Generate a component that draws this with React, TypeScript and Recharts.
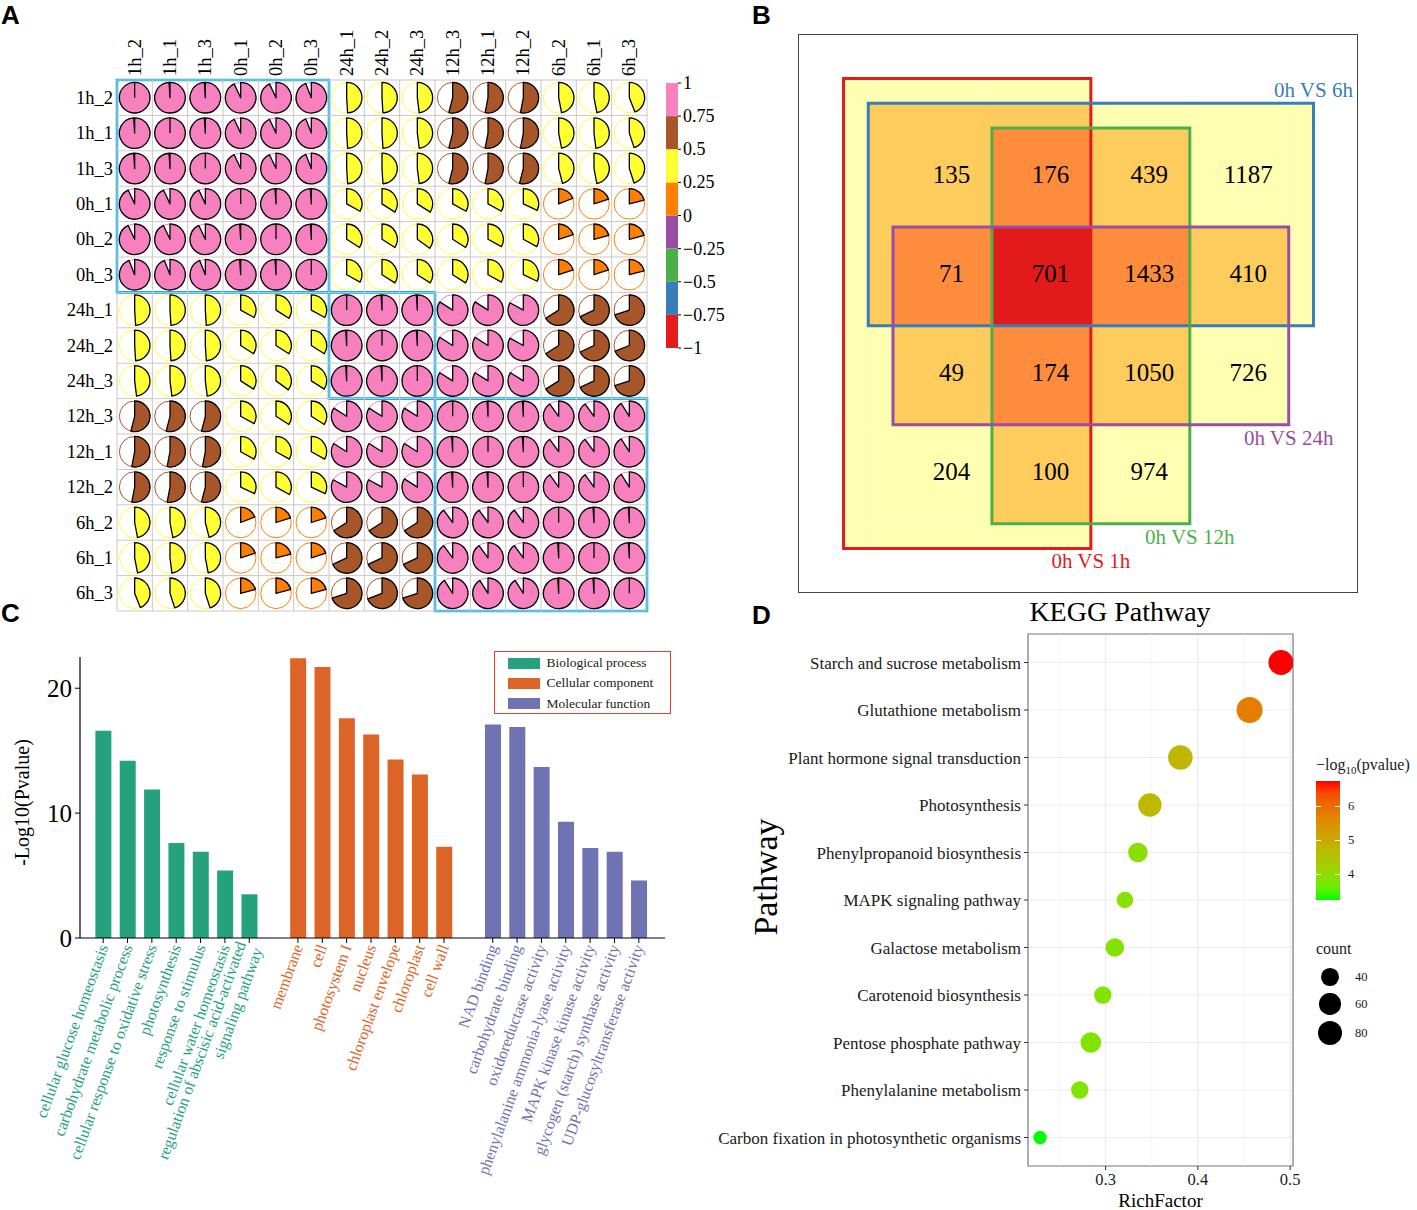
import React from 'react';
import {
  BarChart,
  Bar,
  Cell,
  ScatterChart,
  Scatter,
  XAxis,
  YAxis,
  CartesianGrid,
  ReferenceArea,
  ReferenceLine,
  Legend,
} from 'recharts';

const SERIF = '"Liberation Serif", "Times New Roman", serif';
const SANS = '"Liberation Sans", Arial, sans-serif';

// ---------- A: sample correlation (clustered order) ----------
const samples = ['1h_2', '1h_1', '1h_3', '0h_1', '0h_2', '0h_3', '24h_1', '24h_2', '24h_3', '12h_3', '12h_1', '12h_2', '6h_2', '6h_1', '6h_3'];
const corrRows = [
  [1, 0.99, 0.99, 0.93, 0.93, 0.94, 0.49, 0.49, 0.48, 0.54, 0.53, 0.53, 0.47, 0.47, 0.44],
  [0.99, 1, 0.99, 0.93, 0.93, 0.94, 0.49, 0.49, 0.48, 0.54, 0.53, 0.53, 0.47, 0.48, 0.45],
  [0.99, 0.99, 1, 0.93, 0.93, 0.94, 0.49, 0.49, 0.48, 0.54, 0.53, 0.54, 0.46, 0.47, 0.45],
  [0.93, 0.93, 0.93, 1, 0.99, 0.99, 0.33, 0.34, 0.34, 0.33, 0.33, 0.32, 0.19, 0.2, 0.21],
  [0.93, 0.93, 0.93, 0.99, 1, 0.99, 0.34, 0.34, 0.35, 0.34, 0.33, 0.33, 0.2, 0.21, 0.21],
  [0.94, 0.94, 0.94, 0.99, 0.99, 1, 0.33, 0.34, 0.34, 0.34, 0.33, 0.32, 0.2, 0.2, 0.21],
  [0.49, 0.49, 0.49, 0.33, 0.34, 0.33, 1, 0.99, 0.99, 0.84, 0.84, 0.83, 0.66, 0.68, 0.7],
  [0.49, 0.49, 0.49, 0.34, 0.34, 0.34, 0.99, 1, 0.99, 0.84, 0.84, 0.83, 0.66, 0.68, 0.69],
  [0.48, 0.48, 0.48, 0.34, 0.35, 0.34, 0.99, 0.99, 1, 0.84, 0.84, 0.84, 0.66, 0.68, 0.7],
  [0.54, 0.54, 0.54, 0.33, 0.34, 0.34, 0.84, 0.84, 0.84, 1, 0.99, 0.99, 0.9, 0.9, 0.91],
  [0.53, 0.53, 0.53, 0.33, 0.33, 0.33, 0.84, 0.84, 0.84, 0.99, 1, 0.99, 0.9, 0.9, 0.91],
  [0.53, 0.53, 0.54, 0.32, 0.33, 0.32, 0.83, 0.83, 0.84, 0.99, 0.99, 1, 0.9, 0.9, 0.91],
  [0.47, 0.47, 0.46, 0.19, 0.2, 0.2, 0.66, 0.66, 0.66, 0.9, 0.9, 0.9, 1, 0.99, 0.99],
  [0.47, 0.48, 0.47, 0.2, 0.21, 0.2, 0.68, 0.68, 0.68, 0.9, 0.9, 0.9, 0.99, 1, 0.99],
  [0.44, 0.45, 0.45, 0.21, 0.21, 0.21, 0.7, 0.69, 0.7, 0.91, 0.91, 0.91, 0.99, 0.99, 1],
];
const corrBreaks = [-1, -0.75, -0.5, -0.25, 0, 0.25, 0.5, 0.75, 1];
const corrColors = ['#E41A1C', '#377EB8', '#4DAF4A', '#984EA3', '#FF7F00', '#FFFF33', '#A65628', '#F781BF'];
const clusterBlocks = [[0, 6], [6, 9], [9, 15]];

// ---------- B: overlap of DEG sets ----------
const vennSets = [
  { name: '0h VS 1h', color: '#E41A1C', x1: -0.5, x2: 2, y1: -0.5, y2: 4.25, side: 'bottom' },
  { name: '0h VS 6h', color: '#377EB8', x1: -0.25, x2: 4.25, y1: -0.25, y2: 2, side: 'top' },
  { name: '0h VS 12h', color: '#4DAF4A', x1: 1, x2: 3, y1: 0, y2: 4, side: 'bottom' },
  { name: '0h VS 24h', color: '#984EA3', x1: 0, x2: 4, y1: 1, y2: 3, side: 'bottom' },
];
const vennCounts = [
  [135, 176, 439, 1187],
  [71, 701, 1433, 410],
  [49, 174, 1050, 726],
  [204, 100, 974, null],
];
const overlapFills = ['#FFFFB2', '#FECC5C', '#FD8D3C', '#E31A1C'];

// ---------- C: GO enrichment ----------
const bpTerms = [
  'cellular glucose homeostasis',
  'carbohydrate metabolic process',
  'cellular response to oxidative stress',
  'photosynthesis',
  'response to stimulus',
  'cellular water homeostasis',
  'regulation of abscisic acid-activated\nsignaling pathway',
];
const bpValues = [16.6, 14.2, 11.9, 7.6, 6.9, 5.4, 3.5];
const ccTerms = ['membrane', 'cell', 'photosystem I', 'nucleus', 'chloroplast envelope', 'chloroplast', 'cell wall'];
const ccValues = [22.4, 21.7, 17.6, 16.3, 14.3, 13.1, 7.3];
const mfTerms = [
  'NAD binding',
  'carbohydrate binding',
  'oxidoreductase activity',
  'phenylalanine ammonia-lyase activity',
  'MAPK kinase kinase activity',
  'glycogen (starch) synthase activity',
  'UDP-glucosyltransferase activity',
];
const mfValues = [17.1, 16.9, 13.7, 9.3, 7.2, 6.9, 4.6];
const goGroups = [
  { name: 'Biological process', color: '#25A27D', terms: bpTerms, values: bpValues },
  { name: 'Cellular component', color: '#DC6426', terms: ccTerms, values: ccValues },
  { name: 'Molecular function', color: '#6F73B4', terms: mfTerms, values: mfValues },
];

// ---------- D: KEGG enrichment ----------
const pathways = [
  'Starch and sucrose metabolism',
  'Glutathione metabolism',
  'Plant hormone signal transduction',
  'Photosynthesis',
  'Phenylpropanoid biosynthesis',
  'MAPK signaling pathway',
  'Galactose metabolism',
  'Carotenoid biosynthesis',
  'Pentose phosphate pathway',
  'Phenylalanine metabolism',
  'Carbon fixation in photosynthetic organisms',
];
const richFactor = [0.49, 0.456, 0.381, 0.348, 0.335, 0.321, 0.31, 0.297, 0.284, 0.272, 0.229];
const negLogP = [6.72, 5.75, 4.8, 4.72, 3.95, 3.9, 3.88, 3.86, 3.84, 3.82, 3.25];
const geneCount = [83, 90, 80, 72, 49, 34, 44, 38, 55, 38, 21];
const countBreaks = [40, 60, 80];
const pBreaks = [4, 5, 6];

// ================= helpers =================
const PIE_R = 15.3;

function corrColor(v: number) {
  for (let k = 0; k < corrColors.length; k++) {
    if (v >= corrBreaks[k] && v < corrBreaks[k + 1]) return corrColors[k];
  }
  return corrColors[corrColors.length - 1];
}

function PieGlyph(props: any) {
  const { cx, cy, payload } = props;
  const v = payload.r;
  const col = corrColor(v);
  const f = Math.abs(v);
  const top = cy - PIE_R;
  let wedge;
  if (f >= 0.995) {
    wedge = (
      <g>
        <circle cx={cx} cy={cy} r={PIE_R} fill={col} stroke="#000" strokeWidth={1.3} />
        <line x1={cx} y1={cy} x2={cx} y2={top} stroke="#000" strokeWidth={1.3} />
      </g>
    );
  } else {
    const ang = f * 2 * Math.PI * (v < 0 ? -1 : 1);
    const ex = cx + PIE_R * Math.sin(ang);
    const ey = cy - PIE_R * Math.cos(ang);
    const large = f > 0.5 ? 1 : 0;
    const sweep = v < 0 ? 0 : 1;
    wedge = (
      <path
        d={`M${cx},${cy} L${cx},${top} A${PIE_R},${PIE_R} 0 ${large} ${sweep} ${ex},${ey} Z`}
        fill={col}
        stroke="#000"
        strokeWidth={1.3}
        strokeLinejoin="round"
      />
    );
  }
  return (
    <g>
      <circle cx={cx} cy={cy} r={PIE_R} fill="#fff" stroke={col} strokeWidth={1} />
      {wedge}
    </g>
  );
}

const corrData = corrRows.flatMap((row, i) => row.map((r, j) => ({ x: j + 0.5, y: i + 0.5, r })));
const sampleTicks = samples.map((_, i) => i + 0.5);
const gridValues = samples.map((_, i) => i).concat(samples.length);

function ColTick(props: any) {
  const { x, y, payload } = props;
  return (
    <text x={x} y={y} transform={`rotate(-90, ${x}, ${y})`} textAnchor="start" dominantBaseline="central" fontSize={18.5} fontFamily={SERIF} fill="#000">
      {samples[Math.floor(payload.value)]}
    </text>
  );
}

function RowTick(props: any) {
  const { x, y, payload } = props;
  return (
    <text x={x} y={y} textAnchor="end" dominantBaseline="central" fontSize={18.5} fontFamily={SERIF} fill="#000">
      {samples[Math.floor(payload.value)]}
    </text>
  );
}

const corrBins = corrColors.map((color, i) => ({ key: `b${i}`, color, lo: corrBreaks[i], hi: corrBreaks[i + 1] }));
const corrBarOrder = [...corrBins].sort((a, b) => Math.abs(a.lo + a.hi) - Math.abs(b.lo + b.hi));
const corrBarRow: any = { name: 'r' };
corrBins.forEach((b) => {
  corrBarRow[b.key] = b.lo >= 0 ? b.hi - b.lo : b.lo - b.hi;
});
const fmtSigned = (v: number) => (v < 0 ? `\u2212${Math.abs(v)}` : `${v}`);

function KeyTick(props: any) {
  const { x, y, payload } = props;
  return (
    <text x={x} y={y} textAnchor="start" dominantBaseline="central" fontSize={18} fontFamily={SERIF} fill="#000">
      {fmtSigned(payload.value)}
    </text>
  );
}

// Venn tiles: fill each sub-rectangle by how many sets cover it
const edgeX = Array.from(new Set(vennSets.flatMap((s) => [s.x1, s.x2]))).sort((a, b) => a - b);
const edgeY = Array.from(new Set(vennSets.flatMap((s) => [s.y1, s.y2]))).sort((a, b) => a - b);
const vennTiles: any[] = [];
for (let i = 0; i < edgeX.length - 1; i++) {
  for (let j = 0; j < edgeY.length - 1; j++) {
    const mx = (edgeX[i] + edgeX[i + 1]) / 2;
    const my = (edgeY[j] + edgeY[j + 1]) / 2;
    const n = vennSets.filter((s) => mx > s.x1 && mx < s.x2 && my > s.y1 && my < s.y2).length;
    if (n > 0) vennTiles.push({ x1: edgeX[i], x2: edgeX[i + 1], y1: edgeY[j], y2: edgeY[j + 1], fill: overlapFills[n - 1] });
  }
}
const vennNumbers = vennCounts.flatMap((row, r) =>
  row.map((n, c) => ({ x: c + 0.5, y: r + 0.5, text: n })).filter((d) => d.text !== null)
);
const vennNames = vennSets.map((s) => ({ x: s.x2, y: s.side === 'top' ? s.y1 : s.y2, text: s.name, color: s.color, side: s.side }));

function VennNumber(props: any) {
  const { cx, cy, payload } = props;
  return (
    <text x={cx + 9} y={cy - 3} textAnchor="middle" dominantBaseline="central" fontSize={25} fontFamily={SERIF} fill="#000">
      {payload.text}
    </text>
  );
}

function VennName(props: any) {
  const { cx, cy, payload } = props;
  return (
    <text x={cx} y={cy + (payload.side === 'top' ? -13 : 13)} textAnchor="middle" dominantBaseline="central" fontSize={21} fontFamily={SERIF} fill={payload.color}>
      {payload.text}
    </text>
  );
}

// GO rows with a blank slot between the three groups
const goRows: any[] = [];
goGroups.forEach((g, gi) => {
  if (gi > 0) goRows.push({ name: `gap${gi}`, value: null, group: null });
  g.terms.forEach((t, i) => goRows.push({ name: t, value: g.values[i], group: g }));
});

function GoTick(props: any) {
  const { x, y, payload } = props;
  const row = goRows.find((r) => r.name === payload.value);
  if (!row || !row.group) return null;
  const lines = String(row.name).split('\n');
  return (
    <g>
      <line x1={x} y1={y - 7} x2={x} y2={y - 2} stroke="#000" strokeWidth={1} />
      <text x={x} y={y} transform={`rotate(-70, ${x}, ${y})`} textAnchor="end" fontSize={16} fontFamily={SERIF} fill={row.group.color}>
        {lines.map((l, i) => (
          <tspan key={i} x={x} dy={i === 0 ? (lines.length > 1 ? '-0.2em' : '0.35em') : '1.1em'}>
            {l}
          </tspan>
        ))}
      </text>
    </g>
  );
}

function GoLegend() {
  return (
    <div style={{ width: 177, height: 63, border: '1.5px solid #E2432D', boxSizing: 'border-box', fontFamily: SERIF, fontSize: 13.5, color: '#1a1a1a', paddingTop: 1, background: '#fff' }}>
      {goGroups.map((g) => (
        <div key={g.name} style={{ display: 'flex', alignItems: 'center', height: 20.3, marginLeft: 12.5 }}>
          <span style={{ display: 'inline-block', width: 32, height: 11, background: g.color, marginRight: 7 }} />
          <span>{g.name}</span>
        </div>
      ))}
    </div>
  );
}

const cTitle = (p: any) => {
  const vb = p.viewBox || {};
  const cy = (vb.y || 0) + (vb.height || 0) / 2 + 5;
  return (
    <text x={22} y={cy} transform={`rotate(-90, 22, ${cy})`} textAnchor="middle" dominantBaseline="central" fontSize={20} fontFamily={SERIF} fill="#000">
      -Log10(Pvalue)
    </text>
  );
};

// KEGG colour: ggplot-style gradient green -> red interpolated in Lab
const LAB_LOW = [87.73, -86.18, 83.18];
const LAB_HIGH = [53.24, 80.09, 67.2];
function labToHex(lab: number[]) {
  const [L, a, b] = lab;
  const fy = (L + 16) / 116;
  const fx = fy + a / 500;
  const fz = fy - b / 200;
  const inv = (t: number) => (t * t * t > 0.008856 ? t * t * t : (t - 16 / 116) / 7.787);
  const X = 0.95047 * inv(fx);
  const Y = inv(fy);
  const Z = 1.08883 * inv(fz);
  const lin = [
    3.2406 * X - 1.5372 * Y - 0.4986 * Z,
    -0.9689 * X + 1.8758 * Y + 0.0415 * Z,
    0.0557 * X - 0.204 * Y + 1.057 * Z,
  ];
  return (
    '#' +
    lin
      .map((c) => {
        const s = c <= 0.0031308 ? 12.92 * c : 1.055 * Math.pow(c, 1 / 2.4) - 0.055;
        const v = Math.round(Math.min(1, Math.max(0, s)) * 255);
        return v.toString(16).padStart(2, '0');
      })
      .join('')
  );
}
const pMin = Math.min(...negLogP);
const pMax = Math.max(...negLogP);
const keggColor = (v: number) => {
  const t = (v - pMin) / (pMax - pMin);
  return labToHex(LAB_LOW.map((c, i) => c + t * (LAB_HIGH[i] - c)));
};
const cMin = Math.min(...geneCount);
const cMax = Math.max(...geneCount);
const A_MIN = Math.PI * 6.7 * 6.7;
const A_MAX = Math.PI * 13 * 13;
const bubbleR = (c: number) => Math.sqrt((A_MIN + ((c - cMin) / (cMax - cMin)) * (A_MAX - A_MIN)) / Math.PI);

const rfMin = Math.min(...richFactor);
const rfMax = Math.max(...richFactor);
const rfSpan = rfMax - rfMin;
const rfDomain = [rfMin - 0.05 * rfSpan, rfMax + 0.05 * rfSpan];
const yDomain = [1 - 0.6, pathways.length + 0.6];
const keggData = pathways.map((name, i) => ({ name, x: richFactor[i], y: i + 1, p: negLogP[i], count: geneCount[i] }));

function Bubble(props: any) {
  const { cx, cy, payload } = props;
  return <circle cx={cx} cy={cy} r={bubbleR(payload.count)} fill={keggColor(payload.p)} />;
}

function KeggLegend() {
  const barTop = 26;
  const barH = 119;
  const yOf = (v: number) => barTop + barH - ((v - pMin) / (pMax - pMin)) * barH;
  const stops = Array.from({ length: 11 }, (_, k) => k / 10)
    .map((t) => `${keggColor(pMin + t * (pMax - pMin))} ${t * 100}%`)
    .join(', ');
  const sizeY = [222, 249, 278];
  return (
    <div style={{ position: 'relative', width: 105, height: 300, fontFamily: SERIF, color: '#1a1a1a' }}>
      <div style={{ position: 'absolute', left: 4, top: 0, fontSize: 16, whiteSpace: 'nowrap', lineHeight: '20px' }}>
        {'\u2212log'}
        <sub style={{ fontSize: 11 }}>10</sub>
        (pvalue)
      </div>
      <div style={{ position: 'absolute', left: 4, top: barTop, width: 24, height: barH, background: `linear-gradient(to top, ${stops})` }} />
      {pBreaks.map((v) => (
        <React.Fragment key={v}>
          <div style={{ position: 'absolute', left: 4, top: yOf(v), width: 5, height: 1, background: '#fff' }} />
          <div style={{ position: 'absolute', left: 23, top: yOf(v), width: 5, height: 1, background: '#fff' }} />
          <div style={{ position: 'absolute', left: 36, top: yOf(v) - 8, fontSize: 12.5, lineHeight: '16px' }}>{v}</div>
        </React.Fragment>
      ))}
      <div style={{ position: 'absolute', left: 4, top: 184, fontSize: 16, lineHeight: '20px' }}>count</div>
      {countBreaks.map((c, k) => {
        const r = bubbleR(c);
        return (
          <React.Fragment key={c}>
            <div style={{ position: 'absolute', left: 18 - r, top: sizeY[k] - r, width: 2 * r, height: 2 * r, borderRadius: '50%', background: '#000' }} />
            <div style={{ position: 'absolute', left: 43, top: sizeY[k] - 8, fontSize: 12.5, lineHeight: '16px' }}>{c}</div>
          </React.Fragment>
        );
      })}
    </div>
  );
}

const pathwayTitle = (p: any) => {
  const vb = p.viewBox || {};
  const cy = (vb.y || 0) + (vb.height || 0) / 2 - 23;
  return (
    <text x={65} y={cy} transform={`rotate(-90, 65, ${cy})`} textAnchor="middle" dominantBaseline="central" fontSize={34} fontFamily={SERIF} fill="#000">
      Pathway
    </text>
  );
};

const richTitle = (p: any) => {
  const vb = p.viewBox || {};
  const cx = (vb.x || 0) + (vb.width || 0) / 2;
  return (
    <text x={cx} y={(vb.y || 0) + 41} textAnchor="middle" fontSize={19} fontFamily={SERIF} fill="#000">
      RichFactor
    </text>
  );
};

const letterStyle: React.CSSProperties = { position: 'absolute', fontFamily: SANS, fontWeight: 700, fontSize: 26, lineHeight: '26px', color: '#000' };

export default function App() {
  return (
    <div style={{ position: 'absolute', left: 0, top: 0, width: 1417, height: 1210, background: '#fff', fontFamily: SERIF, overflow: 'hidden' }}>
      <div style={{ ...letterStyle, left: 1, top: 2 }}>A</div>
      <div style={{ ...letterStyle, left: 752, top: 2 }}>B</div>
      <div style={{ ...letterStyle, left: 1, top: 600 }}>C</div>
      <div style={{ ...letterStyle, left: 752, top: 602 }}>D</div>

      {/* A: correlation matrix */}
      <div style={{ position: 'absolute', left: 0, top: 0 }}>
        <ScatterChart width={650} height={614} margin={{ top: 0, right: 3, bottom: 3, left: 0 }}>
          <XAxis type="number" dataKey="x" orientation="top" domain={[0, samples.length]} ticks={sampleTicks} interval={0} height={80} tickSize={0} tickMargin={4} axisLine={false} tickLine={false} tick={<ColTick />} />
          <YAxis type="number" dataKey="y" reversed domain={[0, samples.length]} ticks={sampleTicks} interval={0} width={117} tickSize={0} tickMargin={4} axisLine={false} tickLine={false} tick={<RowTick />} />
          {gridValues.map((g) => (
            <ReferenceLine key={`gx${g}`} x={g} stroke="#C8C8C8" strokeWidth={1} ifOverflow="visible" />
          ))}
          {gridValues.map((g) => (
            <ReferenceLine key={`gy${g}`} y={g} stroke="#C8C8C8" strokeWidth={1} ifOverflow="visible" />
          ))}
          <Scatter data={corrData} shape={PieGlyph} isAnimationActive={false} />
          {clusterBlocks.map(([a, b]) => (
            <ReferenceArea key={`blk${a}`} x1={a} x2={b} y1={a} y2={b} fill="none" fillOpacity={0} stroke="#00AEEF" strokeWidth={2.6} strokeOpacity={1} ifOverflow="visible" />
          ))}
        </ScatterChart>
      </div>

      {/* A: colour key */}
      <div style={{ position: 'absolute', left: 655, top: 65 }}>
        <BarChart width={80} height={301} data={[corrBarRow]} margin={{ top: 18, right: 0, bottom: 18, left: 11 }} barCategoryGap={0} stackOffset="sign">
          <XAxis dataKey="name" hide />
          <YAxis orientation="right" width={57} domain={[-1, 1]} ticks={corrBreaks} interval={0} tickSize={3} tickMargin={2} axisLine={false} tickLine={{ stroke: '#000' }} tick={<KeyTick />} />
          {corrBarOrder.map((b) => (
            <Bar key={b.key} dataKey={b.key} stackId="key" fill={b.color} isAnimationActive={false} />
          ))}
        </BarChart>
      </div>

      {/* B: overlap diagram */}
      <div style={{ position: 'absolute', left: 798, top: 34, width: 560, height: 559, border: '1px solid #444', boxSizing: 'border-box' }}>
        <ScatterChart width={558} height={557} margin={{ top: 0, right: 0, bottom: 0, left: 0 }}>
          <XAxis type="number" dataKey="x" domain={[-0.95, 4.69]} hide />
          <YAxis type="number" dataKey="y" domain={[-0.94, 4.69]} reversed hide />
          {vennTiles.map((t, i) => (
            <ReferenceArea key={`t${i}`} x1={t.x1} x2={t.x2} y1={t.y1} y2={t.y2} fill={t.fill} fillOpacity={1} stroke="none" ifOverflow="visible" />
          ))}
          {vennSets.map((s) => (
            <ReferenceArea key={s.name} x1={s.x1} x2={s.x2} y1={s.y1} y2={s.y2} fill="none" fillOpacity={0} stroke={s.color} strokeWidth={3} ifOverflow="visible" />
          ))}
          <Scatter data={vennNumbers} shape={VennNumber} isAnimationActive={false} />
          <Scatter data={vennNames} shape={VennName} isAnimationActive={false} />
        </ScatterChart>
      </div>

      {/* C: GO bars */}
      <div style={{ position: 'absolute', left: 0, top: 645 }}>
        <BarChart width={672} height={555} data={goRows} margin={{ top: 12, right: 7, bottom: 0, left: 0 }} barCategoryGap="18%">
          <XAxis dataKey="name" interval={0} height={262} padding={{ left: 11, right: 14 }} tickLine={false} tickSize={5} tickMargin={2} axisLine={{ stroke: '#000', strokeWidth: 1.2 }} tick={<GoTick />} />
          <YAxis width={80} domain={[0, 22.5]} ticks={[0, 10, 20]} interval={0} tickSize={5} tickMargin={3} tick={{ fontSize: 25, fill: '#000', fontFamily: SERIF }} tickLine={{ stroke: '#000' }} axisLine={{ stroke: '#000', strokeWidth: 1.2 }} label={cTitle} />
          <Bar dataKey="value" isAnimationActive={false}>
            {goRows.map((r, i) => (
              <Cell key={i} fill={r.group ? r.group.color : 'none'} />
            ))}
          </Bar>
          <Legend content={<GoLegend />} layout="horizontal" align="center" verticalAlign="middle" wrapperStyle={{ left: 494, top: 6, width: 177, height: 63 }} />
        </BarChart>
      </div>

      {/* D: KEGG bubbles */}
      <div style={{ position: 'absolute', left: 1020, top: 596, width: 200, textAlign: 'center', fontSize: 28, lineHeight: '32px', whiteSpace: 'nowrap' }}>KEGG Pathway</div>
      <div style={{ position: 'absolute', left: 700, top: 630 }}>
        <ScatterChart width={717} height={580} margin={{ top: 4, right: 124, bottom: 0, left: 0 }}>
          <CartesianGrid stroke="#EBEBEB" strokeWidth={1.1} />
          {[0.25, 0.35, 0.45].map((m) => (
            <ReferenceLine key={m} x={m} stroke="#F3F3F3" strokeWidth={0.8} />
          ))}
          <XAxis type="number" dataKey="x" domain={rfDomain} ticks={[0.3, 0.4, 0.5]} interval={0} allowDataOverflow height={44} tickSize={4} tickMargin={3} axisLine={false} tickLine={{ stroke: '#333' }} tick={{ fontSize: 16.5, fill: '#1a1a1a', fontFamily: SERIF }} label={richTitle} />
          <YAxis type="number" dataKey="y" domain={yDomain} reversed ticks={pathways.map((_, i) => i + 1)} interval={0} width={328} tickSize={4} tickMargin={3} axisLine={false} tickLine={{ stroke: '#333' }} tick={{ fontSize: 17, fill: '#1a1a1a', fontFamily: SERIF }} tickFormatter={(v: number) => pathways[v - 1]} label={pathwayTitle} />
          <ReferenceArea x1={rfDomain[0]} x2={rfDomain[1]} y1={yDomain[0]} y2={yDomain[1]} fill="none" fillOpacity={0} stroke="#7F7F7F" strokeWidth={1.2} ifOverflow="visible" />
          <Scatter data={keggData} shape={Bubble} isAnimationActive={false} />
          <Legend content={<KeggLegend />} layout="horizontal" align="center" verticalAlign="middle" wrapperStyle={{ left: 612, top: 125, width: 105, height: 300 }} />
        </ScatterChart>
      </div>
    </div>
  );
}
